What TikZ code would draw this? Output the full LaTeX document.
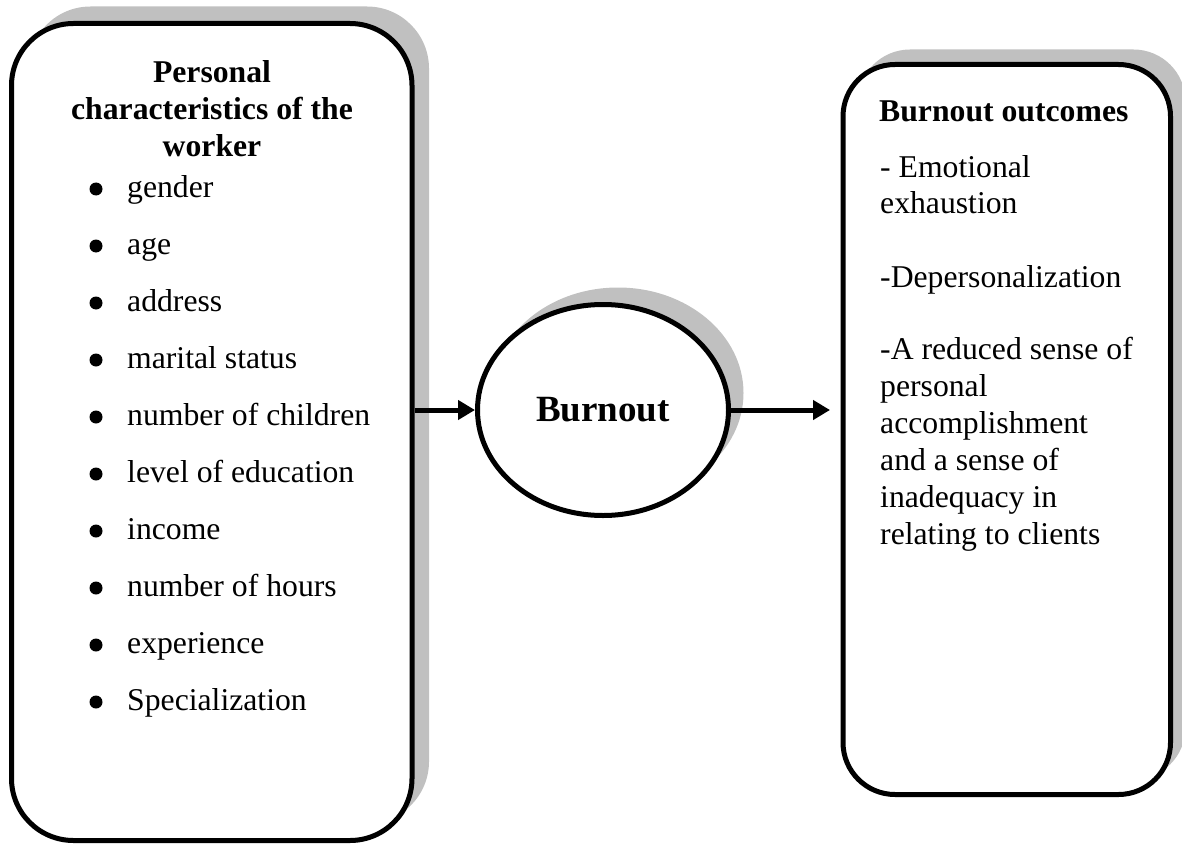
\documentclass[tikz,border=0pt]{standalone}
\usepackage{fontspec}
\setmainfont{Liberation Serif}
\usetikzlibrary{shapes.geometric,shadows,arrows.meta}
\definecolor{shadowgray}{HTML}{C0C0C0}
\begin{document}
\begin{tikzpicture}[x=1pt,y=-1pt,
  box/.style={draw=black, line width=5pt, fill=white, rounded corners=#1, inner sep=0pt},
  shad/.style={general shadow={fill=shadowgray, draw=none, shadow xshift=#1, shadow yshift=#1}},
  txt/.style={inner sep=0pt, anchor=base west, font=\fontsize{31.7}{37}\selectfont},
  hdr/.style={inner sep=0pt, anchor=base, font=\bfseries\fontsize{31.7}{37}\selectfont},
  bul/.style={circle, fill=black, inner sep=0pt, minimum size=13pt},
  arr/.style={line width=5pt, -{Triangle[length=17pt,width=19pt]}}]
\useasboundingbox (0,0) rectangle (1182,845);
% boxes
\node[box=62pt, shad=17pt, minimum width=400.5pt, minimum height=817pt] (left) at (211.75,432) {};
\node[box=52pt, shad=15pt, minimum width=327.5pt, minimum height=730pt] (right) at (1006.75,429.5) {};
\node[ellipse, draw=black, line width=5pt, fill=white,
      general shadow={fill=shadowgray, draw=none, shadow xshift=15pt, shadow yshift=17pt},
      inner sep=0pt, minimum width=251pt, minimum height=211pt,
      font=\bfseries\fontsize{37}{44}\selectfont] (burn) at (603,410) {Burnout};
% left header
\node[hdr] (h1) at (212,83) {Personal};
\node[hdr] (h2) at (212,120) {characteristics of the};
\node[hdr] (h3) at (212,157) {worker};
% bullets
\foreach \t [count=\i from 0] in {gender, age, address, marital status, number of children, level of education, income, number of hours, experience, Specialization} {
  \node[bul] (b\i) at (96,{189+57*\i}) {};
  \node[txt] (l\i) at (127,{197+57*\i}) {\t};
}
% right text
\node[txt, font=\bfseries\fontsize{31.7}{37}\selectfont] (r0) at (879,122) {Burnout outcomes};
\node[txt] (r1) at (880,178) {- Emotional};
\node[txt] (r2) at (880,213) {exhaustion};
\node[txt] (r3) at (880,287) {-Depersonalization};
\node[txt] (r4) at (880,359) {-A reduced sense of};
\node[txt] (r5) at (880,396) {personal};
\node[txt] (r6) at (880,433) {accomplishment};
\node[txt] (r7) at (880,470) {and a sense of};
\node[txt] (r8) at (880,507) {inadequacy in};
\node[txt] (r9) at (880,544) {relating to clients};
% arrows
\coordinate (rtip) at (830,410);
\draw[arr] (burn.west -| left.east) -- (burn.west);
\draw[arr] (burn.east) -- (rtip);
\end{tikzpicture}
\end{document}
